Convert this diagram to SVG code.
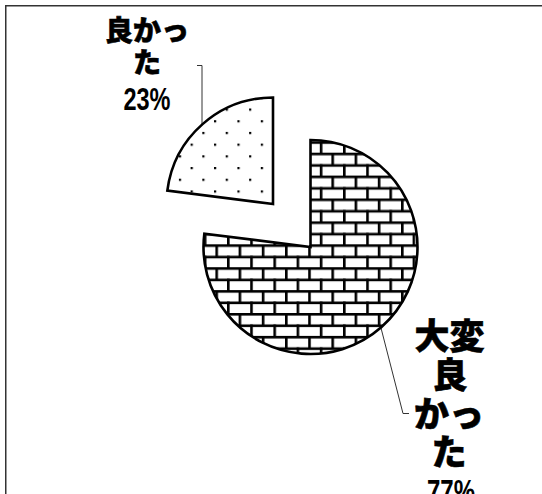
<svg xmlns="http://www.w3.org/2000/svg" width="542" height="494" viewBox="0 0 542 494">
  <style>
    .slice { stroke: #000; stroke-width: 2.6; stroke-linejoin: miter; }
    .leader { fill: none; stroke: #333; stroke-width: 1; }
    .jp { font-family: "Noto Sans CJK JP", "Noto Sans", sans-serif; font-weight: 900; fill: #000; stroke: #000; stroke-width: 0.6; text-anchor: middle; }
    .num { font-family: "Liberation Sans", Arial, sans-serif; font-weight: bold; fill: #000; text-anchor: middle; }
  </style>
  <defs>
    <pattern id="bricks" patternUnits="userSpaceOnUse" x="331.4" y="152.7" width="23.2" height="22.9">
      <rect x="0" y="0" width="23.2" height="22.9" fill="#fff"/>
      <rect x="0" y="0" width="23.2" height="2.6" fill="#000"/>
      <rect x="0" y="11.45" width="23.2" height="2.6" fill="#000"/>
      <rect x="0" y="0" width="2.6" height="13" fill="#000"/>
      <rect x="11.6" y="11.45" width="2.6" height="11.45" fill="#000"/>
    </pattern>
    <pattern id="dots" patternUnits="userSpaceOnUse" x="225.7" y="108.5" width="23.4" height="23.4">
      <rect x="0" y="0" width="23.4" height="23.4" fill="#fff"/>
      <rect x="0" y="0" width="2.2" height="2.2" fill="#000"/>
      <rect x="11.7" y="11.7" width="2.2" height="2.2" fill="#000"/>
    </pattern>
  </defs>

  <rect width="542" height="494" fill="#fff"/>
  <path d="M5.75,494 V5.75 H542" fill="none" stroke="#333" stroke-width="1.5"/>

  <g id="connectors">
    <polyline class="leader" points="197,65.5 202,65.5 202,124"/>
    <polyline class="leader" points="381,328 403,413.5 409,413.5"/>
  </g>

  <g id="slice-daihen">
    <path class="slice" fill="url(#bricks)" d="M310.5,247 L310.5,140 A107,107 0 1 1 204.34,233.59 Z"/>
  </g>

  <g id="slice-yokatta">
    <path class="slice" fill="url(#dots)" d="M273,204 L167.34,190.65 A106.5,106.5 0 0 1 273,97.5 Z"/>
  </g>

  <g id="label-yokatta">
    <text class="jp" x="147" y="41" font-size="28">良かっ</text>
    <text class="jp" x="147" y="73" font-size="28">た</text>
    <text class="num" x="147" y="110" font-size="31" textLength="47" lengthAdjust="spacingAndGlyphs">23%</text>
  </g>

  <g id="label-daihen">
    <text class="jp" x="449.5" y="349" font-size="35">大変</text>
    <text class="jp" x="450" y="388" font-size="35">良</text>
    <text class="jp" x="449" y="427" font-size="35">かっ</text>
    <text class="jp" x="449" y="465" font-size="35">た</text>
    <text class="num" x="451" y="503" font-size="33" textLength="48" lengthAdjust="spacingAndGlyphs">77%</text>
  </g>
</svg>
